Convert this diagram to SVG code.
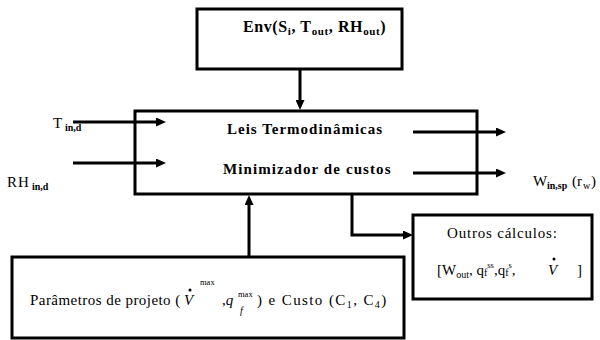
<svg xmlns="http://www.w3.org/2000/svg" width="600" height="340" viewBox="0 0 600 340" font-family="'Liberation Serif', 'DejaVu Serif', 'Times New Roman', serif" font-size="15">
<style>
text{fill:#000}
.box{fill:#fff;stroke:#000;stroke-width:3}
.con{stroke:#000;stroke-width:3;fill:none;marker-end:url(#ah)}
.b{font-weight:bold}
.i{font-style:italic}
.sm{font-size:10px}
.xs{font-size:8.5px}
.big{font-size:16px}
.sb{font-size:11px}
</style>
<defs>
<marker id="ah" markerUnits="userSpaceOnUse" markerWidth="11" markerHeight="9" refX="0" refY="4.5" orient="auto"><path d="M0,0 L10,4.5 L0,9 z" fill="#000"/></marker>
</defs>
<rect width="600" height="340" fill="#fff"/>

<g id="env">
<rect class="box" x="197" y="9" width="205" height="60"/>
<text class="b big" x="243" y="32" letter-spacing="0.6">Env(S<tspan class="sb" dy="3">i</tspan><tspan dy="-3">, T</tspan><tspan class="sb" dy="3">out</tspan><tspan dy="-3">, RH</tspan><tspan class="sb" dy="3">out</tspan><tspan dy="-3">)</tspan></text>
</g>

<g id="main">
<rect class="box" x="135" y="111" width="342" height="83"/>
<text class="b" x="227" y="134" letter-spacing="1">Leis Termodinâmicas</text>
<text class="b" x="223" y="174" letter-spacing="1.1">Minimizador de custos</text>
</g>

<g id="params">
<rect class="box" x="12" y="257" width="392" height="81"/>
<text x="30" y="305" letter-spacing="0.45">Parâmetros de projeto (</text>
<text class="i" x="184" y="305">V</text>
<circle cx="190" cy="290" r="1.5" fill="#000"/>
<text class="xs" x="200" y="285">max</text>
<text x="222" y="305">,<tspan class="i">q</tspan></text>
<text class="sm i" x="240" y="314">f</text>
<text class="xs" x="238" y="297">max</text>
<text x="257" y="305" letter-spacing="1.4">) e Custo (C<tspan class="sm" dy="3">1</tspan><tspan dy="-3">, C</tspan><tspan class="sm" dy="3">4</tspan><tspan dy="-3">)</tspan></text>
</g>

<g id="outros">
<rect class="box" x="413" y="215" width="179" height="84"/>
<text x="447" y="238" letter-spacing="0.8">Outros cálculos:</text>
<text x="437" y="275">[W<tspan class="sm" dy="3">out</tspan><tspan dy="-3">, q</tspan><tspan class="sm" dy="1">f</tspan><tspan class="xs" dy="-8">ss</tspan><tspan dy="7">,q</tspan><tspan class="sm" dy="1">f</tspan><tspan class="xs" dy="-8">s</tspan><tspan dy="7">,</tspan></text>
<text class="i" x="548" y="275">V</text>
<circle cx="554" cy="259" r="1.5" fill="#000"/>
<text x="577" y="275">]</text>
</g>

<g id="labels">
<text x="53" y="128">T</text><text class="b sm" x="65" y="131">in,d</text>
<text x="7" y="187" letter-spacing="1">RH</text><text class="b sm" x="32" y="190">in,d</text>
<text x="533" y="186">W</text><text class="b sm" x="547" y="189">in,sp</text><text x="572" y="186">(r</text><text class="sm" x="583" y="189">w</text><text x="591" y="186">)</text>
</g>

<g id="connectors">
<path class="con" d="M300,69 V100"/>
<path class="con" d="M73,122 H156"/>
<path class="con" d="M73,163 H156"/>
<path class="con" d="M413,132 H496"/>
<path class="con" d="M413,173 H496"/>
<path class="con" d="M249,257 V205"/>
<path class="con" d="M352,194 V235 H403"/>
</g>
</svg>
